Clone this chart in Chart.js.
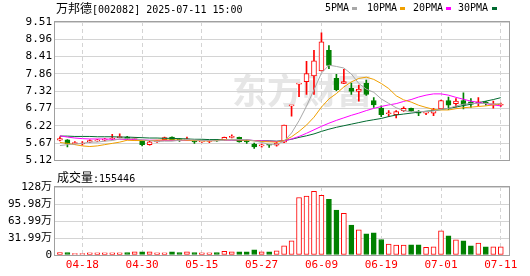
<!DOCTYPE html>
<html lang="zh">
<head>
<meta charset="UTF-8">
<title>万邦德 日K</title>
<script src="https://cdn.jsdelivr.net/npm/chart.js"></script>
<style>
    body {
        margin: 0;
        width: 530px;
        height: 276px;
        position: relative;
        overflow: hidden;
        background: #fff;
        color: #000;
        font-family: 'DejaVu Sans Mono', monospace;
        font-size: 10px;
    }
    .cjk { font-family: 'Noto Sans CJK SC', sans-serif; font-size: 12px; }
    .txt { position: absolute; white-space: nowrap; line-height: 14px; }
    .lg i { position: absolute; top: 6px; width: 5px; height: 3px; }
    #priceBox { position: absolute; left: 0; top: 0; }
    #volBox { position: absolute; left: 0; top: 170px; }
</style>
</head>
<body>

<canvas id="priceBox" width="530" height="170"></canvas>
<canvas id="volBox" width="530" height="106"></canvas>

<div class="txt" style="left:56px; top:1px;"><span class="cjk">万邦德</span>[002082] 2025-07-11 15:00</div>
<div class="txt lg" style="left:325px; top:1px;">5PMA<i style="left:27px; background:#a8a8a8"></i></div>
<div class="txt lg" style="left:367px; top:1px;">10PMA<i style="left:33px; background:#f0a000"></i></div>
<div class="txt lg" style="left:413px; top:1px;">20PMA<i style="left:33px; background:#ff00ff"></i></div>
<div class="txt lg" style="left:458px; top:1px;">30PMA<i style="left:34px; background:#006a30"></i></div>
<div class="txt" id="volLabel" style="left:57px; top:170px;"></div>

<script>
    // trading days shown
    const dates = [
        '04-15','04-16','04-17','04-18','04-21','04-22','04-23','04-24','04-25','04-28',
        '04-29','04-30','05-06','05-07','05-08','05-09','05-12','05-13','05-14','05-15',
        '05-16','05-19','05-20','05-21','05-22','05-23','05-26','05-27','05-28','05-29',
        '05-30','06-03','06-04','06-05','06-06','06-09','06-10','06-11','06-12','06-13',
        '06-16','06-17','06-18','06-19','06-20','06-23','06-24','06-25','06-26','06-27',
        '06-30','07-01','07-02','07-03','07-04','07-07','07-08','07-09','07-10','07-11'
    ];

    const opens = [
        5.76, 5.77, 5.65, 5.64, 5.70, 5.74, 5.76, 5.80, 5.84, 5.86,
        5.78, 5.75, 5.62, 5.71, 5.78, 5.86, 5.80, 5.77, 5.75, 5.71,
        5.72, 5.76, 5.76, 5.85, 5.85, 5.72, 5.64, 5.58, 5.61, 5.60,
        5.70, 6.85, 7.54, 7.62, 7.80, 7.96, 8.61, 7.72, 7.56, 7.41,
        7.31, 7.57, 7.02, 6.78, 6.60, 6.57, 6.70, 6.77, 6.67, 6.62,
        6.62, 6.75, 7.02, 6.92, 7.02, 6.98, 6.95, 6.97, 6.88, 6.87
    ];
    const highs = [
        5.87, 5.78, 5.72, 5.72, 5.77, 5.79, 5.82, 5.95, 5.96, 5.88,
        5.84, 5.76, 5.73, 5.76, 5.86, 5.87, 5.82, 5.86, 5.76, 5.76,
        5.75, 5.77, 5.86, 5.93, 5.86, 5.77, 5.67, 5.64, 5.63, 5.70,
        6.24, 6.86, 7.55, 8.26, 8.61, 9.17, 8.76, 7.85, 8.01, 7.57,
        7.51, 7.67, 7.11, 6.85, 6.70, 6.70, 6.82, 6.78, 6.70, 6.67,
        6.77, 7.03, 7.13, 7.08, 7.26, 7.08, 7.11, 6.99, 7.00, 6.94
    ];
    const lows = [
        5.74, 5.55, 5.63, 5.60, 5.68, 5.72, 5.74, 5.78, 5.83, 5.78,
        5.76, 5.58, 5.60, 5.69, 5.76, 5.76, 5.72, 5.76, 5.66, 5.69,
        5.68, 5.72, 5.75, 5.83, 5.70, 5.66, 5.50, 5.54, 5.53, 5.57,
        5.68, 6.52, 7.14, 7.21, 7.21, 7.96, 8.03, 7.33, 7.55, 7.21,
        7.00, 7.18, 6.80, 6.51, 6.51, 6.47, 6.67, 6.67, 6.54, 6.57,
        6.54, 6.74, 6.73, 6.82, 6.75, 6.80, 6.85, 6.87, 6.78, 6.83
    ];
    const closes = [
        5.81, 5.65, 5.67, 5.66, 5.75, 5.76, 5.80, 5.81, 5.87, 5.80,
        5.80, 5.62, 5.71, 5.73, 5.84, 5.78, 5.77, 5.79, 5.71, 5.74,
        5.74, 5.74, 5.85, 5.86, 5.71, 5.71, 5.55, 5.60, 5.60, 5.67,
        6.24, 6.86, 7.55, 7.87, 8.28, 8.88, 8.13, 7.36, 7.62, 7.31,
        7.38, 7.21, 6.88, 6.57, 6.61, 6.67, 6.77, 6.68, 6.62, 6.63,
        6.73, 7.02, 6.87, 7.00, 6.87, 6.90, 6.97, 6.92, 6.91, 6.89
    ];

    // shares traded
    const volumes = [
        45000, 45000, 25000, 25000, 40000, 40000, 40000, 40000, 40000, 45000,
        60000, 60000, 60000, 40000, 40000, 60000, 45000, 60000, 45000, 40000,
        40000, 45000, 70000, 60000, 60000, 60000, 95000, 60000, 62000, 80000,
        174000, 267000, 1082000, 1107000, 1200000, 1125000, 1050000, 845000, 783000, 565000,
        472000, 398000, 416000, 292000, 205000, 187000, 187000, 193000, 193000, 143000,
        155000, 454000, 361000, 286000, 267000, 174000, 224000, 155000, 155000, 155446
    ];

    const ma5 = [
        5.59, 5.62, 5.64, 5.66, 5.70, 5.70, 5.73, 5.75, 5.80, 5.81,
        5.81, 5.77, 5.75, 5.72, 5.73, 5.73, 5.76, 5.78, 5.77, 5.75,
        5.75, 5.74, 5.76, 5.79, 5.78, 5.78, 5.74, 5.69, 5.63, 5.63,
        5.73, 5.99, 6.38, 6.84, 7.36, 7.89, 8.14, 8.10, 8.05, 7.86,
        7.56, 7.38, 7.28, 7.07, 6.93, 6.79, 6.70, 6.66, 6.67, 6.67,
        6.69, 6.74, 6.77, 6.85, 6.90, 6.93, 6.92, 6.93, 6.91, 6.92
    ];
    const ma10 = [
        5.69, 5.66, 5.62, 5.58, 5.56, 5.58, 5.62, 5.66, 5.70, 5.76,
        5.75, 5.75, 5.75, 5.76, 5.77, 5.77, 5.77, 5.76, 5.75, 5.74,
        5.74, 5.75, 5.77, 5.78, 5.77, 5.76, 5.74, 5.72, 5.71, 5.70,
        5.75, 5.87, 6.04, 6.24, 6.49, 6.81, 7.07, 7.24, 7.45, 7.61,
        7.72, 7.76, 7.69, 7.56, 7.40, 7.17, 7.04, 6.97, 6.87, 6.80,
        6.74, 6.72, 6.72, 6.76, 6.79, 6.81, 6.83, 6.85, 6.88, 6.91
    ];
    const ma20 = [
        5.90, 5.86, 5.83, 5.81, 5.80, 5.80, 5.80, 5.79, 5.79, 5.78,
        5.78, 5.77, 5.76, 5.76, 5.75, 5.75, 5.75, 5.75, 5.75, 5.75,
        5.75, 5.75, 5.76, 5.77, 5.77, 5.77, 5.75, 5.74, 5.73, 5.72,
        5.74, 5.80, 5.88, 5.98, 6.09, 6.20, 6.30, 6.39, 6.47, 6.55,
        6.62, 6.70, 6.77, 6.83, 6.88, 6.92, 6.99, 7.05, 7.13, 7.19,
        7.23, 7.23, 7.19, 7.12, 7.06, 7.00, 6.96, 6.92, 6.88, 6.85
    ];
    const ma30 = [
        5.89, 5.89, 5.88, 5.88, 5.88, 5.87, 5.87, 5.87, 5.86, 5.86,
        5.85, 5.84, 5.83, 5.83, 5.82, 5.82, 5.81, 5.80, 5.79, 5.79,
        5.78, 5.78, 5.77, 5.77, 5.76, 5.76, 5.75, 5.74, 5.74, 5.73,
        5.75, 5.79, 5.85, 5.90, 5.96, 6.04, 6.11, 6.17, 6.22, 6.27,
        6.32, 6.37, 6.41, 6.45, 6.51, 6.56, 6.59, 6.62, 6.65, 6.68,
        6.70, 6.73, 6.77, 6.81, 6.86, 6.90, 6.95, 7.00, 7.05, 7.11
    ];

    const priceTickLabels = ['5.12', '5.67', '6.22', '6.77', '7.32', '7.86', '8.41', '8.96', '9.51'];
    const volTickLabels = ['0', '31.99万', '63.99万', '95.98万', '128万'];
    const dateTickIndex = [3, 11, 19, 27, 35, 43, 51, 59];

    const priceMin = 5.12, priceMax = 9.51;
    const volMax = 1279700;

    const UP = '#ff0000', DOWN = '#008000';
    const GRID = '#d4d4d4', FRAME = '#a0a0a0';

    Chart.defaults.font.family = "'DejaVu Sans Mono', 'Noto Sans CJK SC', monospace";
    Chart.defaults.font.size = 11;
    Chart.defaults.color = '#000';

    const idx = dates.map((_, i) => i);
    const isUp = idx.map(i => closes[i] >= opens[i]);

    document.getElementById('volLabel').innerHTML =
        '<span class="cjk">成交量</span>:' + volumes[volumes.length - 1];

    // box round the plot area
    const framePlugin = {
        id: 'frame',
        afterDraw(chart) {
            const { ctx, chartArea: a } = chart;
            ctx.save();
            ctx.strokeStyle = FRAME;
            ctx.lineWidth = 1;
            ctx.strokeRect(Math.round(a.left) - 0.5, Math.round(a.top) - 0.5,
                Math.round(a.right - a.left) + 1, Math.round(a.bottom - a.top) + 1);
            ctx.restore();
        }
    };

    const watermarkPlugin = {
        id: 'watermark',
        beforeDraw(chart) {
            const ctx = chart.ctx;
            ctx.save();
            ctx.fillStyle = '#e6e6e6';
            ctx.font = "bold 35px 'Noto Sans CJK SC'";
            ctx.textBaseline = 'middle';
            ctx.fillText('东方财富', 232, 91);
            ctx.restore();
        }
    };

    function xScale(showLabels) {
        return {
            type: 'linear',
            min: -0.66,
            max: 60.1,
            offset: false,
            afterBuildTicks: s => { s.ticks = dateTickIndex.map(v => ({ value: v })); },
            afterFit: s => { s.height = showLabels ? 21 : 0; },
            ticks: {
                display: showLabels,
                autoSkip: false,
                maxRotation: 0,
                padding: 4,
                color: '#ff0000',
                callback: v => dates[v]
            },
            grid: { color: GRID, drawTicks: false, offset: false },
            border: { display: false, dash: [4, 3] }
        };
    }

    function yScale(min, max, labels) {
        return {
            min: min,
            max: max,
            afterBuildTicks: s => {
                s.ticks = labels.map((_, k) => ({ value: min + k * (max - min) / (labels.length - 1) }));
            },
            afterFit: s => { s.width = 55; },
            ticks: { autoSkip: false, padding: 3, callback: (v, i) => labels[i] },
            grid: { color: GRID, drawTicks: false },
            border: { display: false }
        };
    }

    function maLine(values, color) {
        return {
            type: 'line',
            data: idx.map(i => ({ x: i, y: values[i] })),
            borderColor: color,
            borderWidth: 1,
            pointRadius: 0,
            fill: false,
            order: 1
        };
    }

    new Chart(document.getElementById('priceBox'), {
        type: 'bar',
        data: {
            datasets: [
                maLine(ma5, '#a8a8a8'),
                maLine(ma10, '#f0a000'),
                maLine(ma20, '#ff00ff'),
                maLine(ma30, '#006a30'),
                {
                    // candle bodies
                    data: idx.map(i => ({ x: i, y: [opens[i], closes[i]] })),
                    backgroundColor: idx.map(i => isUp[i] ? '#ffffff' : DOWN),
                    borderColor: idx.map(i => isUp[i] ? UP : DOWN),
                    borderWidth: 1,
                    borderSkipped: false,
                    barThickness: 5,
                    minBarLength: 1,
                    grouped: false,
                    order: 2
                },
                {
                    // wicks
                    data: idx.map(i => ({ x: i, y: [lows[i], highs[i]] })),
                    backgroundColor: idx.map(i => isUp[i] ? UP : DOWN),
                    barThickness: 1,
                    grouped: false,
                    order: 3
                }
            ]
        },
        options: {
            responsive: false,
            animation: false,
            events: [],
            layout: { padding: { left: 0, right: 21, top: 22, bottom: 5 } },
            plugins: { legend: { display: false }, tooltip: { enabled: false } },
            scales: {
                x: xScale(false),
                y: yScale(priceMin, priceMax, priceTickLabels)
            }
        },
        plugins: [watermarkPlugin, framePlugin]
    });

    new Chart(document.getElementById('volBox'), {
        type: 'bar',
        data: {
            datasets: [{
                data: idx.map(i => ({ x: i, y: volumes[i] })),
                backgroundColor: idx.map(i => isUp[i] ? '#ffffff' : DOWN),
                borderColor: idx.map(i => isUp[i] ? UP : DOWN),
                borderWidth: 1,
                borderSkipped: false,
                barThickness: 5,
                grouped: false
            }]
        },
        options: {
            responsive: false,
            animation: false,
            events: [],
            layout: { padding: { left: 0, right: 21, top: 17, bottom: 0 } },
            plugins: { legend: { display: false }, tooltip: { enabled: false } },
            scales: {
                x: xScale(true),
                y: yScale(0, volMax, volTickLabels)
            }
        },
        plugins: [framePlugin]
    });
</script>

</body>
</html>
